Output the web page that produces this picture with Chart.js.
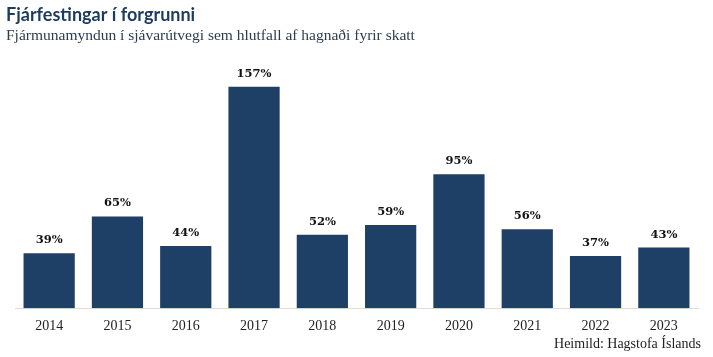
<!DOCTYPE html>
<html>
<head>
<meta charset="utf-8">
<script src="https://cdn.jsdelivr.net/npm/chart.js@4"></script>
<style>
html,body{margin:0;padding:0;background:#fff;}
#wrap{position:relative;width:713px;height:357px;}
</style>
</head>
<body>
<div id="wrap"><canvas id="c" width="713" height="357"></canvas></div>
<script>
const categories = ['2014','2015','2016','2017','2018','2019','2020','2021','2022','2023'];
const values = [39, 65, 44, 157, 52, 59, 95, 56, 37, 43];
const valueLabels = ['39%','65%','44%','157%','52%','59%','95%','56%','37%','43%'];
const titleText = 'Fjárfestingar í forgrunni';
const subtitleText = 'Fjármunamyndun í sjávarútvegi sem hlutfall af hagnaði fyrir skatt';
const sourceText = 'Heimild: Hagstofa Íslands';

const navy = '#1e3f66';

const textPlugin = {
  id: 'texts',
  afterDraw(chart) {
    const ctx = chart.ctx;
    ctx.save();
    ctx.textBaseline = 'middle';
    ctx.textAlign = 'left';
    ctx.fillStyle = '#1d3a5f';
    ctx.font = 'bold 18px Lato';
    ctx.fillText(titleText, 6, 15);
    ctx.fillStyle = '#2b3d52';
    ctx.font = '15.5px "Liberation Serif"';
    ctx.fillText(subtitleText, 6, 36);
    ctx.fillStyle = '#222';
    ctx.font = '14px "Liberation Serif"';
    ctx.textAlign = 'right';
    ctx.fillText(sourceText, 701, 344);
    // value labels
    const meta = chart.getDatasetMeta(0);
    ctx.textAlign = 'center';
    ctx.font = 'bold 11.5px "DejaVu Serif"';
    ctx.fillStyle = '#111';
    meta.data.forEach((bar, i) => {
      ctx.fillText(valueLabels[i], bar.x, bar.y - 13);
    });
    ctx.restore();
  }
};

new Chart(document.getElementById('c'), {
  type: 'bar',
  data: {
    labels: categories,
    datasets: [{
      data: values,
      backgroundColor: navy,
      borderWidth: 0,
      categoryPercentage: 1,
      barPercentage: 0.75
    }]
  },
  options: {
    responsive: false,
    animation: false,
    layout: { padding: { top: 50, left: 15, right: 15, bottom: 12 } },
    plugins: { legend: { display: false }, tooltip: { enabled: false }, title: { display: false } },
    scales: {
      x: {
        grid: { display: false, drawTicks: false },
        border: { display: true, color: '#e3ddd5', width: 1 },
        ticks: { color: '#222', font: { family: 'Liberation Serif', size: 14 }, padding: 10 }
      },
      y: {
        display: false,
        min: 0,
        max: 183
      }
    }
  },
  plugins: [textPlugin]
});
</script>
</body>
</html>
